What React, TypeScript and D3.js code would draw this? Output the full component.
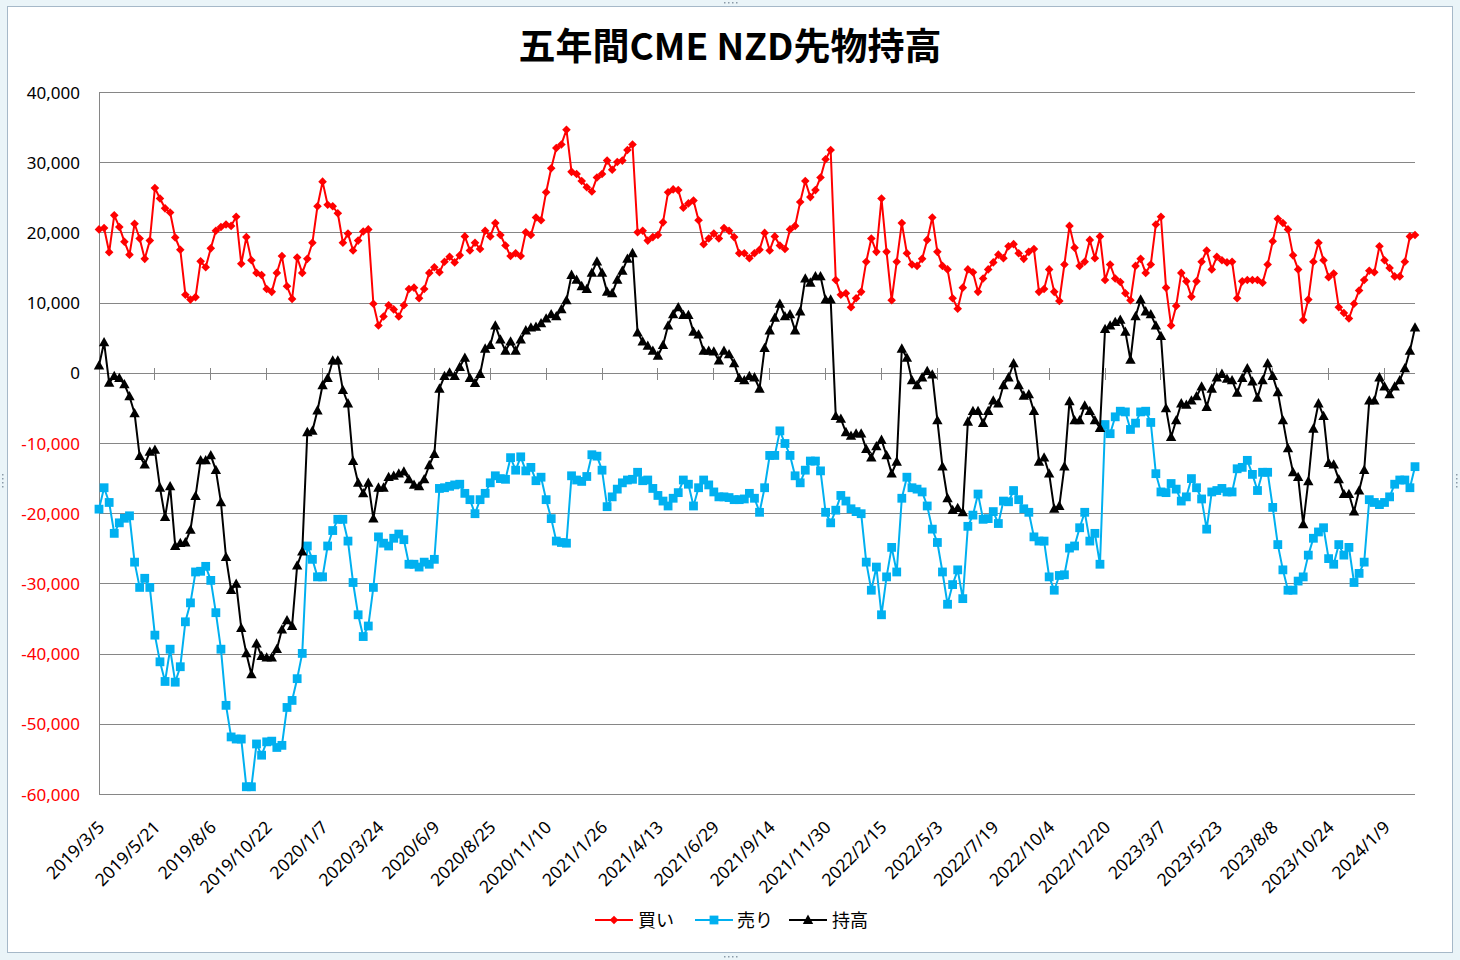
import React from "react";
import * as d3 from "d3";

const TITLE = "五年間CME NZD先物持高";
const SERIES_NAMES = ["買い", "売り", "持高"];
const TICK_EVERY = 11;
const TICK_LABELS = [
  "2019/3/5", "2019/5/21", "2019/8/6", "2019/10/22", "2020/1/7", "2020/3/24",
  "2020/6/9", "2020/8/25", "2020/11/10", "2021/1/26", "2021/4/13", "2021/6/29",
  "2021/9/14", "2021/11/30", "2022/2/15", "2022/5/3", "2022/7/19", "2022/10/4",
  "2022/12/20", "2023/3/7", "2023/5/23", "2023/8/8", "2023/10/24", "2024/1/9",
];
const Y_TICKS = [40000, 30000, 20000, 10000, 0, -10000, -20000, -30000, -40000, -50000, -60000];

// 買い (long positions)
const BUY = [
  20500, 20700, 17250, 22500, 20850, 18750, 16900, 21300, 19200, 16300,
  18900, 26400, 24900, 23500, 22900, 19350, 17600, 11200, 10500, 10850,
  15950, 15100, 17800, 20300, 20850, 21200, 21000, 22300, 15600, 19400,
  16100, 14300, 14000, 12000, 11600, 14300, 16700, 12400, 10600, 16500,
  14300, 16300, 18600, 23800, 27300, 24000, 23800, 22800, 18600, 19900,
  17500, 18900, 20200, 20500, 9900, 6800, 8100, 9700, 9100, 8100,
  9700, 12000, 12200, 10700, 12000, 14300, 15100, 14400, 15900, 16600,
  15800, 16800, 19500, 17500, 18600, 17700, 20300, 19500, 21400, 19700,
  18200, 16700, 17100, 16700, 20100, 19700, 22200, 21800, 25800, 29200,
  32100, 32600, 34700, 28700, 28400, 27400, 26500, 25900, 27900, 28400,
  30300, 29000, 30100, 30300, 31800, 32600, 20100, 20300, 18900, 19400,
  19700, 21500, 25800, 26200, 26100, 23600, 24200, 24600, 21800, 18400,
  19200, 19900, 19200, 20700, 20300, 19400, 17100, 17100, 16400, 17100,
  17600, 20000, 17500, 19500, 18200, 17700, 20500, 21000, 24400, 27400,
  25100, 26100, 27900, 30500, 31800, 13300, 11200, 11400, 9400, 10700,
  11600, 15900, 19200, 17300, 24900, 17300, 10400, 15900, 21400, 17100,
  15500, 15300, 16300, 19000, 22200, 17300, 15300, 14800, 10700, 9200,
  12200, 14800, 14400, 11600, 13500, 14800, 15800, 16900, 16400, 18100,
  18400, 17100, 16300, 17300, 17700, 11600, 12000, 14800, 11600, 10300,
  15500, 21000, 17900, 15300, 15900, 19000, 16400, 19500, 13300, 15500,
  13500, 13000, 11400, 10400, 15300, 16300, 14300, 15500, 21200, 22300,
  12200, 6800, 9600, 14300, 13100, 10900, 13100, 15900, 17500, 14800,
  16600, 16100, 15800, 15900, 10700, 13100, 13300, 13300, 13300, 12900,
  15500, 18800, 22000, 21400, 20500, 16800, 14800, 7600, 10500, 15900,
  18600, 16100, 13700, 14200, 9400, 8600, 7800, 9900, 11800, 13300,
  14600, 14400, 18100, 16100, 15000, 13800, 13800, 15900, 19500, 19700,
];

// 売り (short positions)
const SELL = [
  -19350, -16300, -18400, -22800, -21300, -20650, -20300, -26900, -30500, -29200,
  -30500, -37300, -41100, -43900, -39300, -44000, -41800, -35400, -32700, -28300,
  -28200, -27500, -29500, -34100, -39300, -47300, -51800, -52100, -52100, -58900,
  -58900, -52800, -54400, -52500, -52400, -53300, -53000, -47600, -46600, -43500,
  -39900, -24600, -26500, -29000, -29000, -24600, -22400, -20800, -20800, -23900,
  -29800, -34400, -37500, -36000, -30500, -23300, -24200, -24600, -23500, -22900,
  -23700, -27200, -27200, -27600, -26900, -27200, -26500, -16400, -16300, -16100,
  -15900, -15800, -17100, -18000, -20000, -18000, -17100, -15600, -14600, -15000,
  -15100, -12000, -13800, -11900, -13900, -13400, -15300, -14800, -18000, -20700,
  -23900, -24100, -24200, -14600, -15200, -15400, -14700, -11600, -11800, -13800,
  -19000, -17600, -16500, -15600, -15200, -15100, -14100, -15300, -15200, -16400,
  -17400, -18200, -18900, -17800, -17000, -15200, -15800, -18900, -16300, -15200,
  -15900, -16900, -17600, -17600, -17700, -18000, -18000, -17900, -17100, -17800,
  -19800, -16300, -11700, -11700, -8200, -10000, -11700, -14600, -15600, -13800,
  -12500, -12500, -13900, -19800, -21300, -19500, -17400, -18200, -19300, -19700,
  -20000, -26900, -30900, -27600, -34400, -29000, -24800, -28300, -17800, -14800,
  -16300, -16500, -16900, -18900, -22200, -24100, -28300, -32900, -30100, -28000,
  -32100, -21800, -20200, -17200, -20800, -20700, -19700, -21400, -18200, -18300,
  -16700, -18000, -19300, -19800, -23300, -23900, -23900, -29000, -30900, -28800,
  -28700, -24900, -24600, -22000, -19800, -23900, -22800, -27200, -7300, -8600,
  -6200, -5400, -5500, -8000, -7100, -5500, -5400, -7000, -14300, -16900,
  -17000, -15700, -16500, -18200, -17600, -15000, -16300, -17900, -22200, -16900,
  -16700, -16400, -16900, -16900, -13600, -13400, -12400, -14400, -16700, -14100,
  -14100, -19100, -24400, -28000, -30900, -30900, -29600, -29000, -25900, -23500,
  -22600, -22000, -26400, -27200, -24400, -25900, -24800, -29800, -28500, -26900,
  -18000, -18400, -18700, -18400, -17600, -15800, -15200, -15200, -16300, -13300,
];

// 持高 (net positions)
const NET = [
  1100, 4400, -1370, -400, -700, -1570, -3300, -5700, -11800, -13000,
  -11200, -10900, -16300, -20500, -16100, -24600, -24200, -24100, -22300, -17500,
  -12400, -12400, -11700, -13800, -18400, -26200, -30900, -30000, -36300, -39900,
  -42900, -38500, -40300, -40500, -40500, -39300, -36500, -35200, -36000, -27400,
  -25400, -8400, -8200, -5300, -1700, -700, 1800, 1800, -2400, -4300,
  -12500, -15600, -17100, -15600, -20700, -16300, -16300, -14800, -14600, -14300,
  -14000, -15100, -15900, -16100, -15100, -13100, -11500, -2200, -400, 100,
  -400, 900, 2200, -700, -1400, -100, 3500, 4000, 6800, 4800,
  3200, 4500, 3200, 4800, 6100, 6500, 6600, 7100, 7800, 8400,
  8100, 9100, 10400, 14000, 13300, 12400, 12000, 14300, 15900, 14300,
  11600, 11400, 13300, 14600, 16300, 17100, 5800, 4500, 3900, 3200,
  2500, 4000, 6800, 8400, 9400, 8300, 8300, 5900, 5500, 3200,
  3200, 3100, 1800, 3200, 2700, 1400, -700, -1000, -400, -600,
  -2200, 3600, 6100, 7900, 9900, 8100, 8400, 6100, 8800, 13500,
  12900, 13800, 13800, 10500, 10500, -6100, -6500, -8400, -8900, -8600,
  -8600, -10800, -12000, -10400, -9500, -11700, -14300, -12600, 3500, 2200,
  -1000, -1700, -600, 300, -200, -6700, -13300, -17800, -19500, -19200,
  -19800, -6900, -5400, -5400, -7100, -5400, -3900, -4300, -1700, -600,
  1400, -1700, -3200, -3000, -5400, -12600, -12000, -14300, -19300, -18900,
  -13300, -4000, -6700, -6700, -4600, -5400, -6700, -7800, 6300, 6800,
  7300, 7600, 5900, 1900, 8100, 10500, 8800, 8400, 6800, 5300,
  -5000, -9100, -6700, -4300, -4500, -3900, -3300, -1900, -4800, -2200,
  -600, -100, -800, -1000, -2800, -700, 700, -1200, -3500, -1000,
  1400, -400, -2700, -6700, -10700, -14100, -14800, -21500, -15400, -7900,
  -4300, -6100, -12800, -13000, -15100, -17200, -17200, -19700, -16700, -13800,
  -3900, -3900, -600, -1900, -3000, -1900, -1000, 700, 3200, 6500,
];

const W = 1460;
const H = 960;
const PLOT = { left: 99, right: 1415, top: 92.5, bottom: 794.5 };
const RED = "#ff0000";
const BLUE = "#00b0f0";
const BLACK = "#000000";
const GRID = "#868686";
const NUM_FONT = "'Noto Sans', 'DejaVu Sans', sans-serif";
const CJK_FONT = "'Noto Sans CJK JP', 'Noto Sans', sans-serif";

const fmt = d3
  .formatLocale({ decimal: ".", thousands: ",", grouping: [3], currency: ["", ""], minus: "-" })
  .format(",");

type Marker = "diamond" | "square" | "triangle";

function markerPath(kind: Marker, x: number, y: number): string {
  if (kind === "diamond") return `M${x},${y - 4.3}L${x + 4.3},${y}L${x},${y + 4.3}L${x - 4.3},${y}Z`;
  if (kind === "square") return `M${x - 4.4},${y - 4.4}h8.8v8.8h-8.8Z`;
  return `M${x},${y - 5.4}L${x + 5.2},${y + 3.9}L${x - 5.2},${y + 3.9}Z`;
}

export default function App() {
  const idx = d3.range(BUY.length);
  const x = d3.scalePoint<number>().domain(idx).range([PLOT.left, PLOT.right]).padding(0);
  const y = d3.scaleLinear().domain([-60000, 40000]).range([PLOT.bottom, PLOT.top]);

  const series: { name: string; data: number[]; color: string; marker: Marker }[] = [
    { name: SERIES_NAMES[0], data: BUY, color: RED, marker: "diamond" },
    { name: SERIES_NAMES[1], data: SELL, color: BLUE, marker: "square" },
    { name: SERIES_NAMES[2], data: NET, color: BLACK, marker: "triangle" },
  ];

  const line = d3
    .line<number>()
    .x((_, i) => x(i) as number)
    .y((d) => y(d));

  const tickIdx = TICK_LABELS.map((_, k) => k * TICK_EVERY);
  const y0 = Math.round(y(0)) + 0.5;

  const legendItems = [
    { lx: 595, tx: 638 },
    { lx: 695, tx: 737 },
    { lx: 789, tx: 832 },
  ];
  const legendY = 920;

  const dotsH = [724, 728, 732, 736];
  const dotsV = [474, 478, 482, 486];

  return (
    <div style={{ position: "absolute", left: 0, top: 0 }}>
      <svg width={W} height={H} xmlns="http://www.w3.org/2000/svg" style={{ display: "block" }}>
        <rect x={0} y={0} width={W} height={H} fill="#eaf4f8" />
        <rect x={7.5} y={6.5} width={1445} height={946} fill="#ffffff" stroke="#a6b8c8" strokeWidth={1} />
        {/* selection handles */}
        {dotsH.map((dx) => (
          <g key={"h" + dx} fill="#8a9aa8">
            <rect x={dx} y={2} width={1.5} height={1.5} />
            <rect x={dx} y={956} width={1.5} height={1.5} />
          </g>
        ))}
        {dotsV.map((dy) => (
          <g key={"v" + dy} fill="#8a9aa8">
            <rect x={2} y={dy} width={1.5} height={1.5} />
            <rect x={1456} y={dy} width={1.5} height={1.5} />
          </g>
        ))}

        <text
          x={730}
          y={60}
          textAnchor="middle"
          fontFamily={CJK_FONT}
          fontWeight={700}
          fontSize={37}
          fill="#000"
        >
          {TITLE}
        </text>

        {/* gridlines */}
        <g shapeRendering="crispEdges">
          {Y_TICKS.map((t) => (
            <line key={t} x1={PLOT.left} x2={PLOT.right} y1={y(t)} y2={y(t)} stroke={GRID} strokeWidth={1} />
          ))}
          <line x1={PLOT.left} x2={PLOT.left} y1={PLOT.top} y2={PLOT.bottom} stroke={GRID} strokeWidth={1} />
          {tickIdx.map((i) => (
            <line
              key={"t" + i}
              x1={x(i) as number}
              x2={x(i) as number}
              y1={y0 - 6}
              y2={y0 + 6}
              stroke={GRID}
              strokeWidth={1}
            />
          ))}
        </g>

        {/* y labels */}
        {Y_TICKS.map((t) => (
          <text
            key={"yl" + t}
            x={80}
            y={y(t)}
            dy="0.36em"
            textAnchor="end"
            fontFamily={NUM_FONT}
            fontSize={17}
            fill={t < 0 ? RED : "#000"}
          >
            {fmt(t)}
          </text>
        ))}

        {/* x labels */}
        {TICK_LABELS.map((lab, k) => {
          const px = (x(tickIdx[k]) as number) + 2;
          const py = 824;
          return (
            <text
              key={"xl" + k}
              transform={`translate(${px},${py}) rotate(-45)`}
              dy="0.36em"
              textAnchor="end"
              fontFamily={NUM_FONT}
              fontSize={17.5}
              fill="#000"
            >
              {lab}
            </text>
          );
        })}

        {/* series */}
        {series.map((s) => (
          <g key={s.name}>
            <path d={line(s.data) || ""} fill="none" stroke={s.color} strokeWidth={2} strokeLinejoin="round" />
            <g fill={s.color}>
              {s.data.map((v, i) => (
                <path key={i} d={markerPath(s.marker, x(i) as number, y(v))} />
              ))}
            </g>
          </g>
        ))}

        {/* legend */}
        {series.map((s, k) => {
          const it = legendItems[k];
          return (
            <g key={"lg" + k}>
              <line x1={it.lx} x2={it.lx + 38} y1={legendY} y2={legendY} stroke={s.color} strokeWidth={2} />
              <path d={markerPath(s.marker, it.lx + 19, legendY)} fill={s.color} />
              <text
                x={it.tx}
                y={legendY}
                dy="0.38em"
                fontFamily={CJK_FONT}
                fontSize={18}
                fill="#000"
              >
                {s.name}
              </text>
            </g>
          );
        })}
      </svg>
    </div>
  );
}
